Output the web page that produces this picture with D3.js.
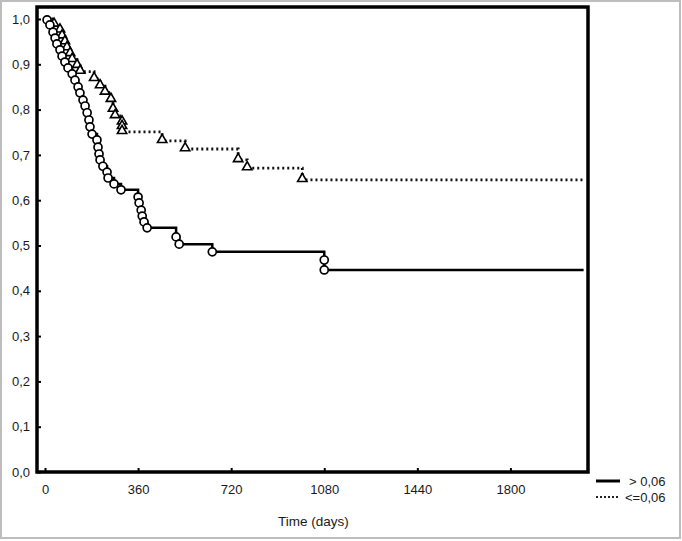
<!DOCTYPE html>
<html>
<head>
<meta charset="utf-8">
<script src="https://cdn.jsdelivr.net/npm/d3@7"></script>
<style>
  body { margin: 0; background: #fff; }
  svg { display: block; font-family: "Liberation Sans", Arial, sans-serif; }
</style>
</head>
<body>
<div id="chart"></div>
<script>
// Kaplan-Meier steps: [day, survival after the event]
const groupHigh = [
  [8, 0.998], [19, 0.987], [31, 0.971], [39, 0.958], [46, 0.945], [58, 0.932],
  [66, 0.918], [77, 0.905], [89, 0.892], [105, 0.879], [116, 0.865], [128, 0.850],
  [135, 0.837], [147, 0.821], [155, 0.808], [163, 0.793], [170, 0.777], [174, 0.762],
  [182, 0.746], [201, 0.733], [205, 0.717], [209, 0.702], [213, 0.689], [224, 0.675],
  [240, 0.662], [244, 0.649], [267, 0.636], [294, 0.623], [360, 0.607], [364, 0.594],
  [372, 0.578], [376, 0.565], [383, 0.552], [395, 0.539], [507, 0.519], [519, 0.503],
  [647, 0.486], [1080, 0.468], [1080, 0.446]
];
const groupLow = [
  [35, 0.988], [58, 0.975], [66, 0.962], [77, 0.949], [85, 0.936], [97, 0.923],
  [105, 0.910], [124, 0.897], [136, 0.884], [190, 0.868], [213, 0.852], [232, 0.838],
  [255, 0.822], [263, 0.800], [271, 0.786], [298, 0.772], [298, 0.762], [298, 0.751],
  [453, 0.731], [542, 0.713], [747, 0.689], [782, 0.671], [995, 0.645]
];
const lastDay = 2083;
const xTicks = [0, 360, 720, 1080, 1440, 1800];
const yTicks = [0, 0.1, 0.2, 0.3, 0.4, 0.5, 0.6, 0.7, 0.8, 0.9, 1.0];
const legendLabels = ['> 0,06', '<=0,06'];
const xTitle = 'Time (days)';

const W = 682, H = 541;
const box = {left: 37, top: 7, right: 588, bottom: 472};

const svg = d3.select('#chart').append('svg')
  .attr('width', W).attr('height', H);

// outer grey frame
svg.append('rect')
  .attr('x', 1).attr('y', 1).attr('width', W - 3).attr('height', H - 4)
  .attr('fill', '#fff').attr('stroke', '#bdbdbd').attr('stroke-width', 2);

const x = d3.scaleLinear().domain([0, 2100]).range([45, box.right]);
const y = d3.scaleLinear().domain([0, 1]).range([box.bottom, 19]);

const comma = d => d3.format('.1f')(d).replace('.', ',');

// axes (ticks point inward)
const gy = svg.append('g')
  .attr('transform', `translate(${box.left},0)`)
  .call(d3.axisLeft(y).tickValues(yTicks).tickFormat(comma)
    .tickSizeInner(-4).tickSizeOuter(0).tickPadding(7));
const gx = svg.append('g')
  .attr('transform', `translate(0,${box.bottom})`)
  .call(d3.axisBottom(x).tickValues(xTicks).tickFormat(d3.format('d'))
    .tickSizeInner(-4).tickSizeOuter(0).tickPadding(13));
[gx, gy].forEach(g => {
  g.select('.domain').remove();
  g.selectAll('line').attr('stroke', '#000').attr('stroke-width', 2);
  g.selectAll('text').attr('font-size', 13).attr('fill', '#1a1a1a')
    .attr('font-family', '"Liberation Sans", Arial, sans-serif');
});

// step path from events
function stepPoints(events) {
  const pts = [[5, 1.0]];
  events.forEach(e => pts.push(e));
  pts.push([lastDay, events[events.length - 1][1]]);
  return pts;
}
const line = d3.line().x(d => x(d[0])).y(d => y(d[1])).curve(d3.curveStepAfter);

svg.append('path')
  .datum(stepPoints(groupLow))
  .attr('d', line).attr('fill', 'none').attr('stroke', '#111')
  .attr('stroke-width', 2.8).attr('stroke-dasharray', '2,3');

svg.append('path')
  .datum(stepPoints(groupHigh))
  .attr('d', line).attr('fill', 'none').attr('stroke', '#000')
  .attr('stroke-width', 2.5);

// markers
svg.append('g').selectAll('path')
  .data(groupLow).join('path')
  .attr('d', d3.symbol(d3.symbolTriangle, 38))
  .attr('transform', d => `translate(${x(d[0])},${y(d[1]) - 1})`)
  .attr('fill', '#fff').attr('stroke', '#000').attr('stroke-width', 1.6);

svg.append('g').selectAll('circle')
  .data(groupHigh).join('circle')
  .attr('cx', d => x(d[0])).attr('cy', d => y(d[1]))
  .attr('r', 4)
  .attr('fill', '#fff').attr('stroke', '#000').attr('stroke-width', 1.7);

// plot frame
svg.append('rect')
  .attr('x', box.left).attr('y', box.top)
  .attr('width', box.right - box.left).attr('height', box.bottom - box.top)
  .attr('fill', 'none').attr('stroke', '#000').attr('stroke-width', 3.5);

// x title
svg.append('text')
  .attr('x', (box.left + box.right) / 2 + 1).attr('y', 526)
  .attr('text-anchor', 'middle').attr('font-size', 13.5).attr('fill', '#1a1a1a')
  .text(xTitle);

// legend
const leg = svg.append('g');
leg.append('line').attr('x1', 596).attr('x2', 620).attr('y1', 481).attr('y2', 481)
  .attr('stroke', '#000').attr('stroke-width', 3);
leg.append('line').attr('x1', 596).attr('x2', 620).attr('y1', 497).attr('y2', 497)
  .attr('stroke', '#222').attr('stroke-width', 1.8).attr('stroke-dasharray', '2,2');
leg.selectAll('text').data(legendLabels).join('text')
  .attr('x', (d, i) => i === 0 ? 629 : 625)
  .attr('y', (d, i) => 486 + i * 16)
  .attr('font-size', 13).attr('fill', '#1a1a1a')
  .text(d => d);
</script>
</body>
</html>
